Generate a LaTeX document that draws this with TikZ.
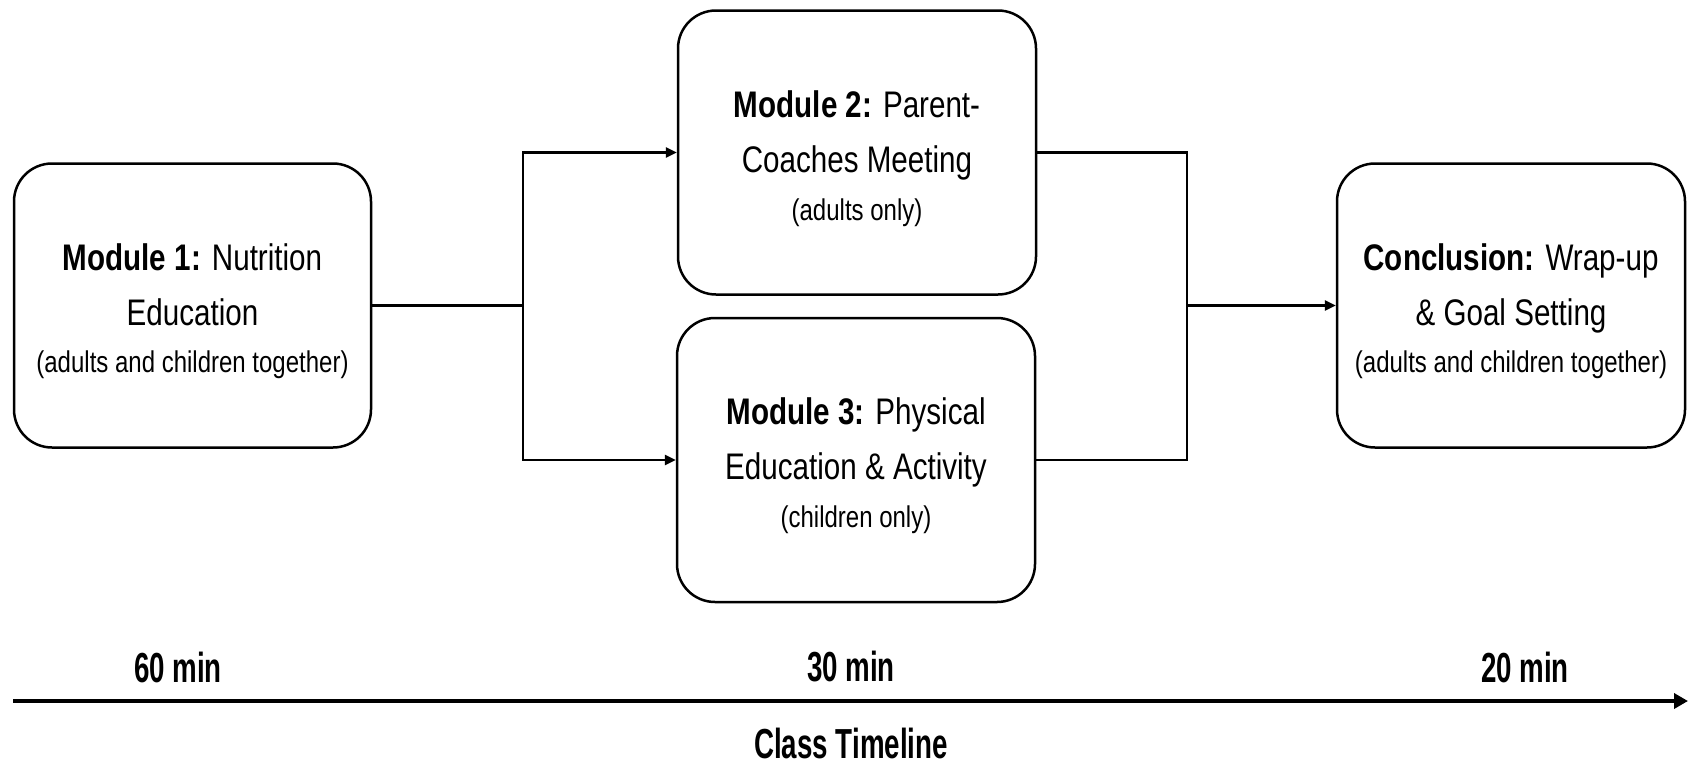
\documentclass[tikz,border=0pt]{standalone}
\usepackage{fontspec}
\setmainfont{Liberation Sans}[FakeStretch=0.8]
\newfontfamily\tlfont{Liberation Sans}[FakeStretch=0.66]
\usetikzlibrary{arrows.meta}
\newcommand\subtxt[1]{{\fontsize{30}{36}\selectfont #1}}
\newcommand\topstrut{\rule{0pt}{39pt}}
\tikzset{
  modbox/.style={draw, line width=2.5pt, rounded corners=38pt,
    minimum width=357pt, minimum height=284pt, align=center, inner sep=0pt,
    font=\fontsize{37}{55}\selectfont},
  conn/.style={line width=2.5pt},
  arr/.style={conn, -{Triangle[length=11pt,width=10pt]}},
  tline/.style={line width=4pt, -{Triangle[length=14pt,width=15pt]}},
  tlabel/.style={inner sep=0pt, font=\tlfont\bfseries\fontsize{42}{50}\selectfont}
}
\begin{document}
\begin{tikzpicture}[x=1pt,y=-1pt]
\useasboundingbox (0,0) rectangle (1688,766);
\node[modbox] (m1) at (192.5,305.5) {\topstrut\textbf{Module 1:} Nutrition\\Education\\[-8pt]\subtxt{(adults and children together)}};
\node[modbox, minimum width=358pt] (m2) at (857,152.5) {\topstrut\textbf{Module 2:} Parent-\\Coaches Meeting\\[-7pt]\subtxt{(adults only)}};
\node[modbox, minimum width=358pt] (m3) at (856,460) {\topstrut\textbf{Module 3:} Physical\\Education \& Activity\\[-7pt]\subtxt{(children only)}};
\node[modbox, minimum width=348pt] (m4) at (1511,305.5) {\topstrut\textbf{Conclusion:} Wrap-up\\\& Goal Setting\\[-8pt]\subtxt{(adults and children together)}};
\coordinate (sp) at (523,305.5);
\coordinate (mg) at (1187,305.5);
\draw[conn] (m1.east) -- (sp);
\draw[arr] (sp) |- (m2.west);
\draw[arr] (sp) |- (m3.west);
\draw[conn] (m2.east) -| (mg);
\draw[conn] (m3.east) -| (mg);
\draw[arr] (mg) -- (m4.west);
\coordinate (t0) at (13,701);
\coordinate (t1) at (1688,701);
\draw[tline] (t0) -- (t1);
\node[tlabel] (l60) at (178,667) {60 min};
\node[tlabel] (l30) at (851,667) {30 min};
\node[tlabel] (l20) at (1525,667) {20 min};
\node[tlabel] (ct) at (851,743) {Class Timeline};
\end{tikzpicture}
\end{document}
